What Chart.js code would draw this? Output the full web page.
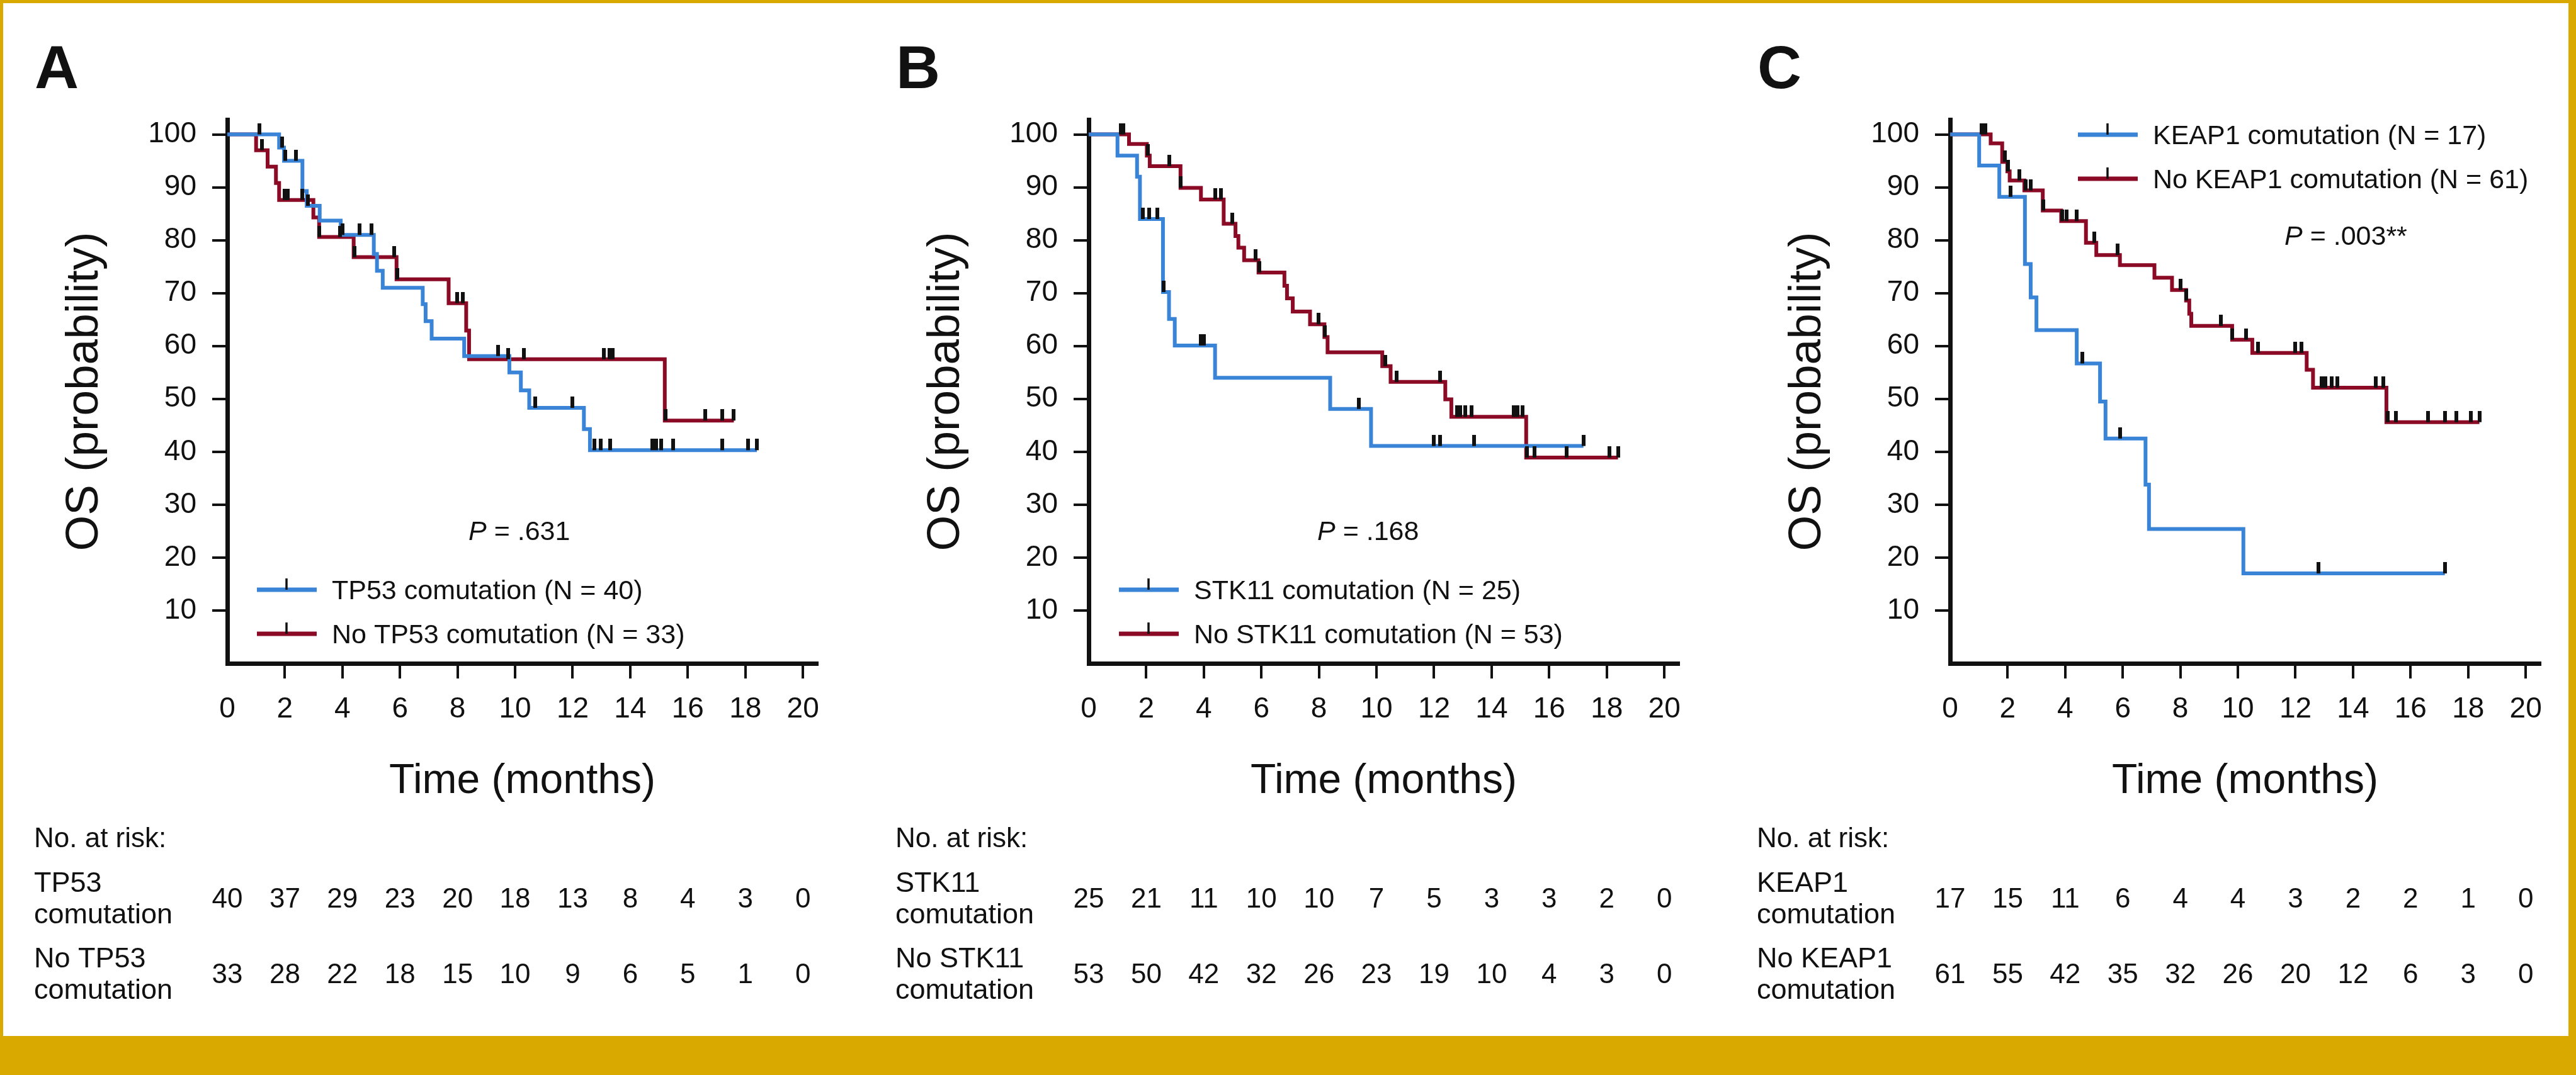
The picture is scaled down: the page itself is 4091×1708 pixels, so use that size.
<!DOCTYPE html>
<html>
<head>
<meta charset="utf-8">
<script src="https://cdn.jsdelivr.net/npm/chart.js@4.4.1/dist/chart.umd.min.js"></script>
<style>
  html, body { margin: 0; padding: 0; }
  body { width: 4091px; height: 1708px; background: #d9a900; position: relative; overflow: hidden; }
  #sheet { position: absolute; left: 5px; top: 5px; width: 4074px; height: 1641px; background: #ffffff; }
  .panel { position: absolute; top: 0; width: 1350px; height: 1646px; }
  canvas { display: block; }
</style>
</head>
<body>
<div id="sheet"></div>
<div class="panel" style="left:0px"><canvas id="chartA" width="1350" height="1646"></canvas></div>
<div class="panel" style="left:1368px"><canvas id="chartB" width="1350" height="1646"></canvas></div>
<div class="panel" style="left:2736px"><canvas id="chartC" width="1350" height="1646"></canvas></div>
<script>
// ---------------- data ----------------
const monthTicks = [0, 2, 4, 6, 8, 10, 12, 14, 16, 18, 20];
const probTicks = [10, 20, 30, 40, 50, 60, 70, 80, 90, 100];

// Panel A
const tp53Times = [0, 1.80, 1.97, 2.61, 2.76, 3.21, 3.94, 5.09, 5.20, 5.40, 6.79, 6.89, 7.10, 8.23, 9.80, 10.20, 10.49, 12.39, 12.60, 18.40];
const tp53Surv  = [100, 97.5, 95.0, 89.3, 86.5, 83.7, 81.0, 77.4, 74.2, 71.0, 67.9, 64.7, 61.4, 58.1, 55.0, 51.6, 48.3, 44.3, 40.3, 40.3];
const tp53Censored = [1.11, 1.90, 2.01, 2.39, 2.80, 4.00, 4.60, 5.00, 9.40, 10.69, 12.00, 12.75, 12.97, 13.30, 14.76, 14.90, 15.07, 15.50, 17.20, 18.10, 18.40];
const noTp53Times = [0, 1.00, 1.40, 1.69, 1.80, 2.99, 3.19, 4.39, 5.88, 7.69, 8.30, 8.40, 15.20, 17.60];
const noTp53Surv  = [100, 97.0, 93.9, 90.8, 87.6, 84.3, 80.6, 76.8, 72.6, 68.1, 62.9, 57.5, 45.9, 45.9];
const noTp53Censored = [1.20, 1.99, 2.10, 2.61, 3.20, 3.92, 4.41, 5.80, 5.90, 7.99, 8.19, 9.76, 10.30, 13.08, 13.27, 13.40, 15.22, 16.60, 17.20, 17.60];
const legendA = ['TP53 comutation (N = 40)', 'No TP53 comutation (N = 33)'];
const riskNamesA = ['TP53', 'No TP53'];
const riskTp53   = [40, 37, 29, 23, 20, 18, 13, 8, 4, 3, 0];
const riskNoTp53 = [33, 28, 22, 18, 15, 10, 9, 6, 5, 1, 0];

// Panel B
const stk11Times = [0, 1.00, 1.68, 1.78, 2.58, 2.79, 2.99, 4.39, 8.39, 9.81, 17.19];
const stk11Surv  = [100, 96.0, 92.0, 84.0, 70.2, 65.1, 60.1, 54.0, 48.1, 41.1, 41.1];
const stk11Censored = [1.89, 2.09, 2.39, 2.60, 3.90, 4.00, 9.39, 11.99, 12.20, 13.40, 17.19];
const noStk11Times = [0, 1.40, 2.02, 2.12, 3.19, 3.90, 4.69, 5.10, 5.20, 5.40, 5.90, 6.80, 6.89, 7.09, 7.69, 8.19, 8.30, 10.20, 10.49, 12.39, 12.60, 15.20, 18.39];
const noStk11Surv  = [100, 98.2, 96.0, 94.0, 89.9, 87.7, 83.1, 80.8, 78.6, 76.2, 73.9, 71.4, 69.0, 66.5, 64.1, 61.7, 58.8, 56.2, 53.2, 49.9, 46.6, 38.9, 38.9];
const noStk11Censored = [1.11, 1.20, 2.05, 2.79, 3.20, 4.39, 4.60, 4.99, 5.80, 5.92, 7.99, 8.20, 10.30, 10.70, 12.21, 12.79, 12.90, 13.09, 13.30, 14.76, 14.90, 15.07, 15.22, 15.50, 16.60, 18.10, 18.39];
const legendB = ['STK11 comutation (N = 25)', 'No STK11 comutation (N = 53)'];
const riskNamesB = ['STK11', 'No STK11'];
const riskStk11   = [25, 21, 11, 10, 10, 7, 5, 3, 3, 2, 0];
const riskNoStk11 = [53, 50, 42, 32, 26, 23, 19, 10, 4, 3, 0];

// Panel C
const keap1Times = [0, 1.01, 1.71, 2.60, 2.80, 3.00, 4.40, 5.21, 5.40, 6.79, 6.91, 10.19, 17.19];
const keap1Surv  = [100, 94.1, 88.2, 75.5, 69.2, 63.0, 56.7, 49.5, 42.5, 33.8, 25.4, 17.0, 17.0];
const keap1Censored = [2.11, 4.60, 5.90, 12.79, 17.19];
const noKeap1Times = [0, 1.41, 1.81, 1.99, 2.07, 2.58, 3.22, 3.86, 4.72, 5.08, 5.90, 7.10, 7.71, 8.20, 8.31, 8.38, 9.80, 10.50, 12.39, 12.61, 15.16, 18.39];
const noKeap1Surv  = [100, 98.3, 94.8, 93.0, 91.3, 89.4, 85.6, 83.6, 79.5, 77.2, 75.3, 72.9, 70.6, 68.6, 66.1, 63.8, 61.2, 58.7, 55.5, 52.1, 45.6, 45.6];
const noKeap1Censored = [1.09, 1.22, 1.90, 2.01, 2.40, 2.62, 2.80, 3.23, 3.90, 4.04, 4.40, 5.00, 5.81, 8.00, 8.21, 9.40, 9.81, 10.29, 10.70, 11.99, 12.21, 12.90, 13.05, 13.25, 13.45, 14.80, 15.05, 15.20, 15.49, 16.60, 17.19, 17.59, 18.10, 18.39];
const legendC = ['KEAP1 comutation (N = 17)', 'No KEAP1 comutation (N = 61)'];
const riskNamesC = ['KEAP1', 'No KEAP1'];
const riskKeap1   = [17, 15, 11, 6, 4, 4, 3, 2, 2, 1, 0];
const riskNoKeap1 = [61, 55, 42, 35, 32, 26, 20, 12, 6, 3, 0];

const pValues = ['.631', '.168', '.003**'];

// ---------------- styling ----------------
const FONT = "'Liberation Sans', Arial, Helvetica, sans-serif";
const BLUE = '#3a84d7';
const RED = '#8b0a26';
const INK = '#111111';

function stepPoints(times, surv) { return times.map((t, i) => ({ x: t, y: surv[i] })); }
function survAt(times, surv, t) {
  let s = surv[0];
  for (let i = 0; i < times.length; i++) if (times[i] <= t) s = surv[i];
  return s;
}
function censorPoints(times, surv, cens) { return cens.map(t => ({ x: t, y: survAt(times, surv, t) })); }

const censorMark = (() => {
  const c = document.createElement('canvas');
  c.width = 6; c.height = 36;
  const g = c.getContext('2d');
  g.fillStyle = INK; g.fillRect(0, 0, 6, 18);
  return c;
})();

function makeAnnot(p) {
  return {
    id: 'annot' + p.letter,
    afterDraw(chart) {
      const ctx = chart.ctx, ax = chart.chartArea.left, xs = chart.scales.x;
      ctx.save();
      ctx.fillStyle = INK; ctx.textBaseline = 'alphabetic'; ctx.textAlign = 'left';
      // panel letter
      ctx.font = 'bold 97px ' + FONT;
      ctx.fillText(p.letter, ax - 306, 140);
      // legend
      p.legend.forEach((label, i) => {
        const cy = p.legendY + i * 70, lx = ax + p.legendX;
        ctx.strokeStyle = p.colors[i]; ctx.lineWidth = 7; ctx.lineCap = 'butt';
        ctx.beginPath(); ctx.moveTo(lx, cy); ctx.lineTo(lx + 95, cy); ctx.stroke();
        ctx.strokeStyle = INK; ctx.lineWidth = 3.5;
        ctx.beginPath(); ctx.moveTo(lx + 47, cy); ctx.lineTo(lx + 47, cy - 18); ctx.stroke();
        ctx.font = '43px ' + FONT;
        ctx.fillText(label, lx + 119, cy + 15);
      });
      // P value
      ctx.font = 'italic 43px ' + FONT;
      ctx.fillText('P', ax + p.pX, p.pY);
      const w = ctx.measureText('P').width;
      ctx.font = '43px ' + FONT;
      ctx.fillText(' = ' + p.pText, ax + p.pX + w, p.pY);
      // number at risk table
      ctx.font = '44px ' + FONT;
      ctx.fillText('No. at risk:', ax - 307, 1346);
      p.risk.forEach((counts, r) => {
        const base = 1442 + r * 120;
        ctx.textAlign = 'left';
        ctx.font = '45px ' + FONT;
        ctx.fillText(p.riskNames[r], ax - 307, base - 25);
        ctx.fillText('comutation', ax - 307, base + 25);
        ctx.textAlign = 'center';
        ctx.font = '44px ' + FONT;
        counts.forEach((n, i) => ctx.fillText(String(n), xs.getPixelForValue(monthTicks[i]), base));
      });
      ctx.restore();
    }
  };
}

function axisCommon() {
  return {
    type: 'linear',
    ticks: { font: { family: FONT, size: 46 }, color: INK, maxRotation: 0, autoSkip: false },
    grid: {
      drawOnChartArea: false, drawTicks: true, tickLength: 24, lineWidth: 4,
      color: c => (c.tick && c.tick.value === 0) ? 'rgba(0,0,0,0)' : INK
    },
    border: { display: true, color: INK, width: 7 }
  };
}

function makeChart(id, p) {
  const xAxis = axisCommon();
  Object.assign(xAxis, {
    min: 0, max: 20.5,
    afterBuildTicks: s => { s.ticks = monthTicks.map(v => ({ value: v })); },
    afterFit: s => { s.height = 221; },
    title: { display: true, text: 'Time (months)', color: INK, padding: 0, font: { family: FONT, size: 66, lineHeight: 1 } }
  });
  xAxis.ticks.padding = 22;
  const yAxis = axisCommon();
  Object.assign(yAxis, {
    min: 0, max: 102.8,
    afterBuildTicks: s => { s.ticks = probTicks.map(v => ({ value: v })); },
    afterFit: s => { s.width = 361; },
    title: { display: true, text: 'OS (probability)', color: INK, padding: { top: 98, bottom: 0 }, font: { family: FONT, size: 73, lineHeight: 1 } }
  });
  yAxis.ticks.padding = 25;

  return new Chart(document.getElementById(id), {
    type: 'line',
    data: {
      datasets: [
        { label: 'censored', data: censorPoints(p.aTimes, p.aSurv, p.aCens).concat(censorPoints(p.bTimes, p.bSurv, p.bCens)),
          showLine: false, pointStyle: censorMark, pointRadius: 3, pointHoverRadius: 3, order: 0 },
        { label: p.legend[0], data: stepPoints(p.aTimes, p.aSurv), borderColor: BLUE, borderWidth: 6,
          stepped: true, pointRadius: 0, fill: false, borderCapStyle: 'butt', borderJoinStyle: 'miter', order: 1 },
        { label: p.legend[1], data: stepPoints(p.bTimes, p.bSurv), borderColor: RED, borderWidth: 6,
          stepped: true, pointRadius: 0, fill: false, borderCapStyle: 'butt', borderJoinStyle: 'miter', order: 2 }
      ]
    },
    options: {
      responsive: false, animation: false, devicePixelRatio: 1,
      layout: { padding: { left: 0, right: 52, top: 190, bottom: 371 } },
      plugins: { legend: { display: false }, tooltip: { enabled: false } },
      scales: { x: xAxis, y: yAxis }
    },
    plugins: [makeAnnot(p)]
  });
}

makeChart('chartA', {
  letter: 'A', aTimes: tp53Times, aSurv: tp53Surv, aCens: tp53Censored,
  bTimes: noTp53Times, bSurv: noTp53Surv, bCens: noTp53Censored,
  legend: legendA, colors: [BLUE, RED], legendX: 47, legendY: 937,
  pX: 383, pY: 858, pText: pValues[0], riskNames: riskNamesA, risk: [riskTp53, riskNoTp53]
});
makeChart('chartB', {
  letter: 'B', aTimes: stk11Times, aSurv: stk11Surv, aCens: stk11Censored,
  bTimes: noStk11Times, bSurv: noStk11Surv, bCens: noStk11Censored,
  legend: legendB, colors: [BLUE, RED], legendX: 48, legendY: 937,
  pX: 363, pY: 858, pText: pValues[1], riskNames: riskNamesB, risk: [riskStk11, riskNoStk11]
});
makeChart('chartC', {
  letter: 'C', aTimes: keap1Times, aSurv: keap1Surv, aCens: keap1Censored,
  bTimes: noKeap1Times, bSurv: noKeap1Surv, bCens: noKeap1Censored,
  legend: legendC, colors: [BLUE, RED], legendX: 203, legendY: 214,
  pX: 531, pY: 389, pText: pValues[2], riskNames: riskNamesC, risk: [riskKeap1, riskNoKeap1]
});
</script>
</body>
</html>
